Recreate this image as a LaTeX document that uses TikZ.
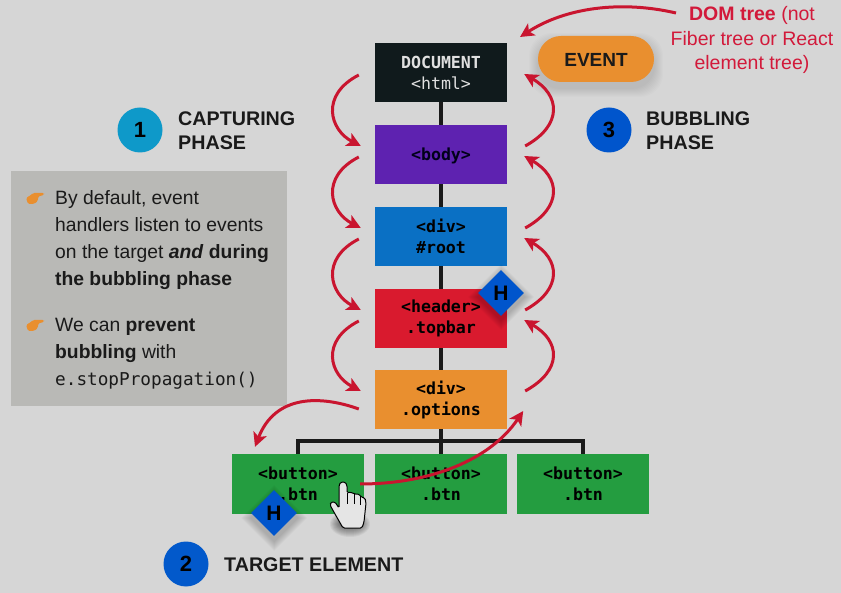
\documentclass[tikz,border=0pt]{standalone}
\usepackage{fontspec}
\setmainfont{Liberation Sans}
\setmonofont{DejaVu Sans Mono}
\usetikzlibrary{shapes.geometric}
\usetikzlibrary{calc}
\usetikzlibrary{positioning, arrows.meta}

\definecolor{pagegrey}{HTML}{D6D6D6}
\definecolor{panelgrey}{HTML}{B9B9B6}
\definecolor{inkblack}{HTML}{1A1A1A}
\definecolor{arrowred}{HTML}{C9152F}
\definecolor{notered}{HTML}{D2193A}
\definecolor{docblack}{HTML}{101A1C}
\definecolor{bodypurple}{HTML}{5E22B0}
\definecolor{rootblue}{HTML}{0A70C4}
\definecolor{headerred}{HTML}{D91A2E}
\definecolor{optionsorange}{HTML}{E98F2F}
\definecolor{btngreen}{HTML}{249D40}
\definecolor{hoverblue}{HTML}{0055CC}
\definecolor{stepcyan}{HTML}{0E99C9}

\begin{document}
\begin{tikzpicture}[x=1pt, y=-1pt]
        % Define styles for shapes
        \tikzstyle{elementbox} = [minimum width=132pt, minimum height=59pt, inner sep=0pt, align=center, text=black,
            font=\fontsize{16.6}{21}\selectfont\ttfamily\bfseries, execute at begin node={\rule{0pt}{16pt}}]
        \tikzstyle{hoverdiamond} = [diamond, fill=hoverblue, minimum size=46pt, inner sep=0pt, font=\fontsize{21}{21}\selectfont\bfseries, text=black]
        \tikzstyle{phasecircle} = [circle, minimum size=45pt, inner sep=0pt, font=\fontsize{22}{22}\selectfont\bfseries, text=black]
        \tikzstyle{phaselabel} = [inner sep=0pt, anchor=west, align=left, text=inkblack, font=\fontsize{19.7}{24}\selectfont\bfseries]
        \tikzstyle{paneltext} = [inner sep=0pt, anchor=north west, align=left, text=inkblack, font=\fontsize{19.3}{27}\selectfont]
        \tikzstyle{treeline} = [draw=inkblack, line width=4pt]
        \tikzstyle{redarrow} = [draw=arrowred, line width=3pt, -{Stealth[length=14pt, width=14pt, inset=3.5pt]}]
        % Page and grey panel
        \useasboundingbox (0, 0) rectangle (841, 593);
        \fill[pagegrey] (0, 0) rectangle (841, 593);
        \fill[panelgrey] (11, 171) rectangle (287, 406);
        % Pointing hands of the panel
        \foreach \handy in {198, 325} {
            \fill[optionsorange, rounded corners=1.5pt, shift={(0, \handy)}]
                (26, 0) -- (31, -3) -- (33, -5) -- (44, -5) -- (44, -3) -- (38, -1.5) -- (38, 3) -- (34, 6) -- (28, 6) -- cycle;
        }
        % Panel text
        \node[paneltext] (paneltop) at (55, 190.5) {By default, event\\handlers listen to events\\on the target \textbf{\textit{and}} \textbf{during}\\\textbf{the bubbling phase}};
        \node[paneltext] (panelbottom) at (55, 318.5) {We can \textbf{prevent}\\\textbf{bubbling} with\\{\fontsize{17.7}{27}\selectfont\ttfamily e.stopPropagation()}};
        % Draw shapes
        \node[elementbox, fill=docblack, text=white!88!black] (doc) at (441, 72.5) {DOCUMENT\\{\mdseries <html>}};
        \node[elementbox, fill=bodypurple, text=black!90!blue] (body) at (441, 154.5) {<body>};
        \node[elementbox, fill=rootblue] (rootdiv) at (441, 236.5) {<div>\\\#root};
        \node[elementbox, fill=headerred] (header) at (441, 318.5) {<header>\\.topbar};
        \node[elementbox, fill=optionsorange] (options) at (441, 399.5) {<div>\\.options};
        \node[elementbox, fill=btngreen, minimum height=60pt] (btnone) at (298, 484) {<button>\\.btn};
        \node[elementbox, fill=btngreen, minimum height=60pt] (btntwo) at (441, 484) {<button>\\.btn};
        \node[elementbox, fill=btngreen, minimum height=60pt] (btnthree) at (583, 484) {<button>\\.btn};
        % Event pill with its soft shadow
        \foreach \grow in {1, 2, ..., 9} {
            \fill[black, opacity=0.012, rounded corners=23pt] (538-\grow, 42-\grow) rectangle (654+\grow, 88+\grow);
        }
        \node[fill=optionsorange, rounded corners=23pt, minimum width=116pt, minimum height=46pt, inner sep=0pt,
            font=\fontsize{19}{19}\selectfont\bfseries, text=inkblack] (event) at (596, 59) {\rule{0pt}{15pt}EVENT};
        % Tree lines
        \draw[treeline] (doc) -- (body);
        \draw[treeline] (body) -- (rootdiv);
        \draw[treeline] (rootdiv) -- (header);
        \draw[treeline] (header) -- (options);
        \draw[treeline] (options) -- (btntwo);
        \draw[treeline] (btnone.north) -- ++(0, -13) -| (btnthree.north);
        % Phase labels
        \node[phasecircle, fill=stepcyan] (stepone) at (140, 130) {1};
        \node[phaselabel] (capturing) at (178, 131) {CAPTURING\\PHASE};
        \node[phasecircle, fill=hoverblue] (stepthree) at (609, 130) {3};
        \node[phaselabel] (bubbling) at (646, 131) {BUBBLING\\PHASE};
        \node[phasecircle, fill=hoverblue!85!rootblue] (steptwo) at (186, 564) {2};
        \node[phaselabel] (target) at (224, 565) {TARGET ELEMENT};
        % Note about the DOM tree
        \node[inner sep=0pt, align=center, text=notered, font=\fontsize{19.5}{24.5}\selectfont] (domnote) at (752, 40) {\textbf{DOM tree} (not\\Fiber tree or React\\element tree)};
        \coordinate (domstart) at (676, 13);
        \coordinate (domend) at (520, 37);
        \draw[redarrow] (domstart) .. controls (620, 0) and (565, 8) .. (domend);
        % Capturing and bubbling arrows
        \foreach \upper/\lower in {doc/body, body/rootdiv, rootdiv/header, header/options} {
            \draw[redarrow] ([shift={(-16, 2.5)}]\upper.west) .. controls +(-39, 20) and +(-31, -16) .. ([shift={(-14, -8.5)}]\lower.west);
            \draw[redarrow] ([shift={(18, -8.5)}]\lower.east) .. controls +(38, -21) and +(36, 21) .. ([shift={(17, 1.5)}]\upper.east);
        }
        % Arrows to and from the target
        \draw[redarrow] ([shift={(-16, 9.5)}]options.west) .. controls +(-39, -14) and +(20, -52) .. ([shift={(-43, -7)}]btnone.north);
        \draw[redarrow] ([shift={(-4, 0)}]btnone.east) .. controls +(70, 0) and +(-33, 49) .. ([shift={(16, 11.5)}]options.east);
        % Hover diamonds
        \foreach \grow in {1, 2, ..., 10} {
            \fill[black, opacity=0.02] (501, 297-23-\grow) -- (524+\grow, 297) -- (501, 297+23+\grow) -- (478-\grow, 297) -- cycle;
            \fill[black, opacity=0.02] (274, 518-23-\grow) -- (297+\grow, 518) -- (274, 518+23+\grow) -- (251-\grow, 518) -- cycle;
        }
        \node[hoverdiamond] (hovertop) at (501, 293) {H};
        \node[hoverdiamond] (hoverbottom) at (274, 513) {H};
        % Hand cursor
        \foreach \grow in {1, 2, ..., 12} {
            \fill[black, opacity=0.05] (350, 524) ellipse ({8+\grow} and {1+\grow});
        }
        \draw[black, fill=white!90!black, line width=1pt, rounded corners=1.5pt]
            (339, 508) -- (339, 485) -- (341, 482) -- (345, 482) -- (347, 485) -- (347, 493) -- (351, 492) -- (354, 494)
            -- (359, 494) -- (361, 497) -- (365, 498) -- (366, 503) -- (364, 522) -- (362, 528) -- (343, 528)
            -- (335, 514) -- (330, 505) -- (331, 502) -- (335, 502) -- cycle;
        \draw[black, line width=0.7pt] (347, 493) -- (347, 504);
        \draw[black, line width=0.7pt] (354, 494) -- (354, 504);
        \draw[black, line width=0.7pt] (360, 496) -- (360, 505);
\end{tikzpicture}
\end{document}
